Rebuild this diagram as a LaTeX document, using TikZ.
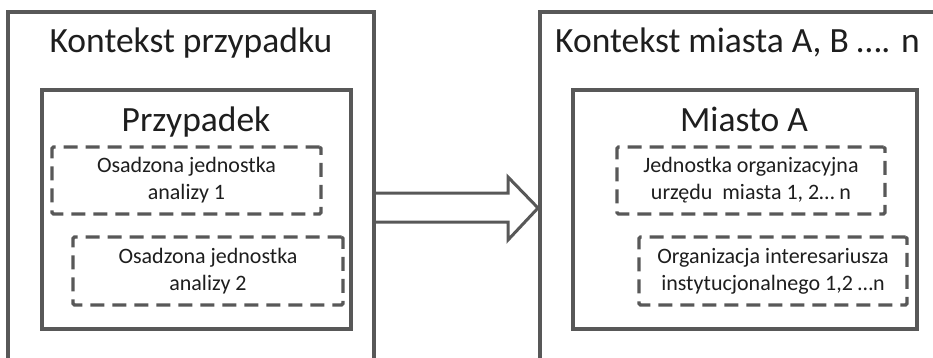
\documentclass[tikz,border=0pt]{standalone}
\usepackage{fontspec}
\setmainfont{Carlito}
\definecolor{linegray}{HTML}{585858}
\definecolor{txt}{HTML}{1E1E1E}
\begin{document}
\begin{tikzpicture}[x=1pt,y=-1pt,
  solidbox/.style={draw=linegray, line width=4pt, rectangle, inner sep=0pt},
  dashbox/.style={draw=linegray, line width=3.3pt, rectangle, inner sep=0pt, rounded corners=1.5pt,
     dash pattern=on 14pt off 8pt, align=center, text=txt,
     font=\fontsize{22}{27}\selectfont},
  bigtitle/.style={anchor=base, text=txt, inner sep=0pt, font=\fontsize{35.5}{40}\selectfont},
  blockarrow/.style={draw=linegray, line width=3pt, fill=white, line join=miter}]
\useasboundingbox (0,0) rectangle (933,358);
\clip (0,0) rectangle (933,358);
\fill[white] (0,0) rectangle (933,358);
% outer boxes
\node[solidbox, minimum width=366pt, minimum height=368pt] (L) at (191,196) {};
\node[solidbox, minimum width=420pt, minimum height=368pt] (R) at (750,196) {};
% titles
\node[bigtitle] (Lt) at (191,53) {Kontekst przypadku};
\node[bigtitle] (Rt) at (737.5,53) {Kontekst miasta A, B …. n};
% inner boxes
\node[solidbox, minimum width=309pt, minimum height=239pt] (Li) at (196.5,209.5) {};
\node[solidbox, minimum width=344pt, minimum height=239pt] (Ri) at (745,209.5) {};
\node[bigtitle] (Lit) at (196,132) {Przypadek};
\node[bigtitle] (Rit) at (744,132) {Miasto A};
% dashed boxes
\node[dashbox, minimum width=269pt, minimum height=67pt] (d1) at (186.5,180.5) {Osadzona jednostka\\analizy 1};
\node[dashbox, minimum width=270pt, minimum height=68pt] (d2) at (208,271) {Osadzona jednostka\\analizy 2};
\node[dashbox, minimum width=268pt, minimum height=67pt] (d3) at (751,180.5) {Jednostka organizacyjna\\urzędu~ miasta 1, 2… n};
\node[dashbox, minimum width=268pt, minimum height=68pt] (d4) at (773,271) {Organizacja interesariusza\\instytucjonalnego 1,2 …n};
% block arrow from L to R
\coordinate (a0) at (L.east |- 0,193);
\coordinate (a1) at (L.east |- 0,222);
\coordinate (tip) at (R.west |- 0,208);
\draw[blockarrow] (a0) -- ([xshift=-30pt]tip |- a0) -- ([xshift=-30pt]tip |- 0,177) -- (tip)
   -- ([xshift=-30pt]tip |- 0,240) -- ([xshift=-30pt]tip |- a1) -- (a1);
\end{tikzpicture}
\end{document}
